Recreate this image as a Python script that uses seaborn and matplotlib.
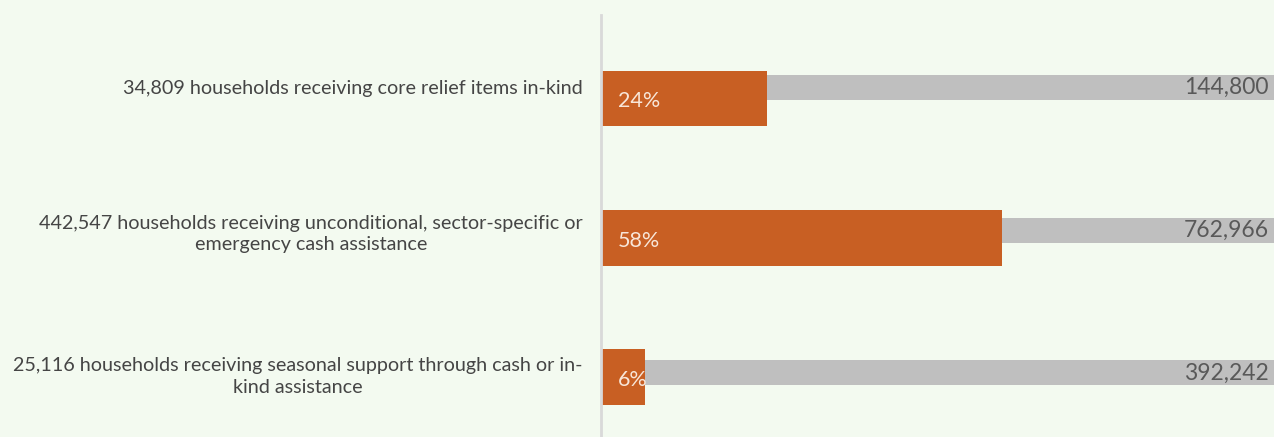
import matplotlib.pyplot as plt
import seaborn as sns
import pandas as pd

# data
labels = ['34,809 households receiving core relief items in-kind',
          '442,547 households receiving unconditional, sector-specific or\nemergency cash assistance',
          '25,116 households receiving seasonal support through cash or in-\nkind assistance']
reached = [34809, 442547, 25116]
targets = [144800, 762966, 392242]

df = pd.DataFrame({'label': labels, 'reached': reached, 'target': targets})
df['pct'] = df['reached'] / df['target'] * 100

bg = '#f3faf0'
sns.set_style('white')
plt.rcParams['font.family'] = ['Lato', 'DejaVu Sans']

fig = plt.figure(figsize=(12.74, 4.37), dpi=100, facecolor=bg)
ax = fig.add_axes([601 / 1274, 0, 1 - 601 / 1274, 1 - 15 / 437])
ax.set_facecolor(bg)

# grey target track (slightly above bar centre)
ypos = [i - 0.08 + 0.025 * i for i in range(len(df))]
ax.barh(ypos, [100] * len(df), height=0.18, color='#bfbfbf', linewidth=0, zorder=1)

# orange progress bars
sns.barplot(data=df, x='pct', y='label', orient='h', color='#c85f23',
            saturation=1, width=0.4, linewidth=0, ax=ax, zorder=2)

for i, row in df.iterrows():
    ax.text(2.4, i + 0.02, f"{row['pct']:.0f}%", va='center', ha='left',
            color='#f8e6d8', fontsize=15.5, zorder=3)
    ax.text(96.5, ypos[i], f"{row['target']:,}", va='center', ha='right',
            color='#595959', fontsize=16.5, zorder=3)

ax.set_xlim(0, 97.3)
ax.set_ylim(2.43, -0.6)
ax.set_xlabel('')
ax.set_ylabel('')
ax.set_xticks([])
ax.set_yticks(ypos)
ax.set_yticklabels(labels, fontsize=14.2, color='#454545')
for t in ax.get_yticklabels():
    t.set_multialignment('center')
    t.set_linespacing(1.3)
ax.tick_params(axis='y', length=0, pad=13)

for s in ['top', 'right', 'bottom']:
    ax.spines[s].set_visible(False)
ax.spines['left'].set_color('#d9d9d9')
ax.spines['left'].set_linewidth(2)
ax.spines['left'].set_zorder(4)

fig.savefig('out.png', dpi=100, facecolor=bg)
